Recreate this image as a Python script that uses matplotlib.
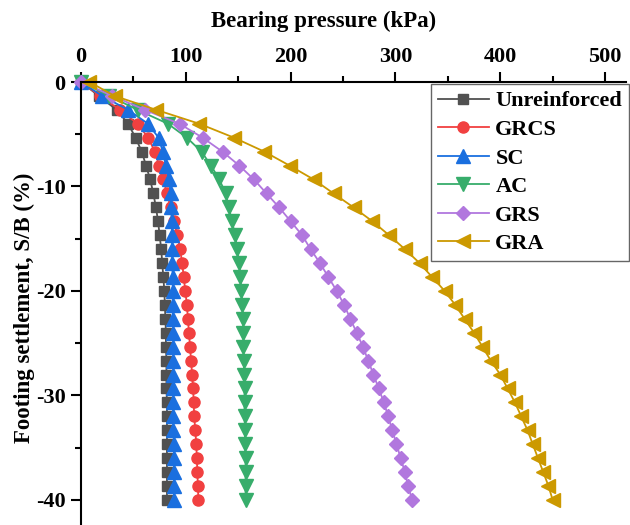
import matplotlib
matplotlib.use("Agg")
import matplotlib.pyplot as plt
from matplotlib.ticker import MultipleLocator

plt.rcParams['font.family'] = ['Liberation Serif', 'DejaVu Serif']
plt.rcParams['font.weight'] = 'bold'
plt.rcParams['axes.unicode_minus'] = False

# settlement S/B (%)
sb = [0, -1.33, -2.67, -4.0, -5.33, -6.67, -8.0, -9.33, -10.67, -12.0,
      -13.33, -14.67, -16.0, -17.33, -18.67, -20.0, -21.33, -22.67, -24.0,
      -25.33, -26.67, -28.0, -29.33, -30.67, -32.0, -33.33, -34.67, -36.0,
      -37.33, -38.67, -40.0]

# bearing pressure (kPa)
unreinforced = [0, 17, 34, 45, 52, 58, 62, 66, 69, 71.5, 73.5, 75, 76.5, 77.5,
                78.5, 79.5, 80, 80.5, 81, 81, 81.5, 81.5, 81.5, 82, 82, 82, 82,
                82, 82, 82, 82]
grcs = [0, 18, 37, 54, 64, 70.5, 74.5, 78.5, 82, 85.5, 88.5, 92, 94.5, 96.5,
        98, 99.5, 101, 102, 103, 104, 105, 106, 107, 107.5, 108, 109, 110,
        110.5, 111, 111.5, 112]
sc = [0, 20, 45, 64, 74, 78, 81, 84, 85.5, 86, 86.5, 87, 87, 87, 87.5, 87.5,
      87.5, 87.5, 88, 88, 88, 88, 88, 88, 88, 88, 88.5, 88.5, 88.5, 88.5, 88.5]
ac = [0, 27, 54, 83, 101, 115, 124, 132, 138, 141, 144, 147, 149, 151, 152,
      153, 154, 154.5, 155, 155, 155.5, 155.5, 156, 156, 156, 156.5, 156.5,
      157, 157, 157, 157]
grs = [0, 30, 61, 94, 116, 135, 151, 165, 177, 189, 200, 211, 219, 228, 236,
       244, 251, 257, 263, 269, 274, 279, 284, 289, 293, 297, 301, 305, 309,
       312, 316]
gra = [8, 32, 72, 113, 146, 175, 199, 222, 241, 260, 278, 294, 309, 323, 335,
       347, 357, 366, 375, 383, 391, 400, 407, 414, 420, 426, 431, 436, 441,
       446, 450]

series = [
    ('Unreinforced', unreinforced, '#515151', 's', 7),
    ('GRCS', grcs, '#F14040', 'o', 8),
    ('SC', sc, '#1A6FDF', '^', 9.5),
    ('AC', ac, '#37AD6B', 'v', 9.5),
    ('GRS', grs, '#B177DE', 'D', 7),
    ('GRA', gra, '#CC9900', '<', 9.5),
]

fig = plt.figure(figsize=(6.3, 5.25), dpi=100)
ax = fig.add_axes([0.1286, 0.0, 0.8651, 0.8438])

for name, p, c, m, ms in series:
    ax.plot(p, sb, color=c, marker=m, markersize=ms, linewidth=1.3,
            label=name, clip_on=False)

ax.set_xlim(0, 520)
ax.set_ylim(-42.4, 0)

ax.xaxis.tick_top()
ax.xaxis.set_label_position('top')
ax.spines['right'].set_visible(False)
ax.spines['bottom'].set_visible(False)
ax.spines['top'].set_linewidth(1.5)
ax.spines['left'].set_linewidth(1.5)

ax.xaxis.set_major_locator(MultipleLocator(100))
ax.xaxis.set_minor_locator(MultipleLocator(50))
ax.yaxis.set_major_locator(MultipleLocator(10))
ax.yaxis.set_minor_locator(MultipleLocator(5))
ax.tick_params(which='major', length=7, width=1.5, direction='out',
               labelsize=16)
ax.tick_params(which='minor', length=4, width=1.5, direction='out')
ax.tick_params(axis='x', which='major', pad=4)
ax.tick_params(axis='y', which='major', pad=4)

ax.set_xlabel('Bearing pressure (kPa)', fontsize=16.5, fontweight='bold')
ax.xaxis.set_label_coords(0.445, 1.125)
ax.set_ylabel('Footing settlement, S/B (%)', fontsize=16.5, fontweight='bold')
ax.yaxis.set_label_coords(-0.085, 0.49)

leg = ax.legend(loc='upper right', bbox_to_anchor=(1.005, 0.995),
                borderaxespad=0, fontsize=16, handlelength=2.3,
                handletextpad=0.3, labelspacing=0.36, borderpad=0.3,
                fancybox=False, edgecolor='#666666', framealpha=1)
leg.get_frame().set_linewidth(1.0)

fig.savefig('out.png', dpi=100)
